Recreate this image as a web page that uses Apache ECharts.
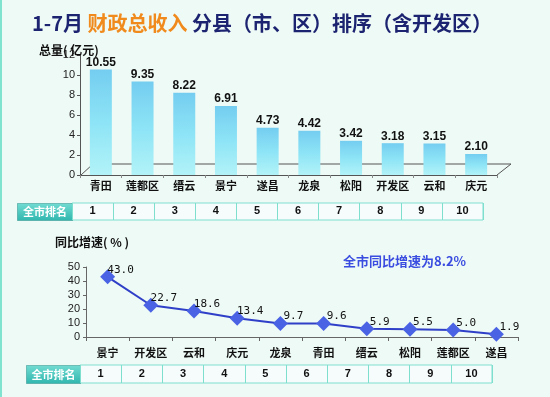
<!DOCTYPE html>
<html>
<head>
<meta charset="utf-8">
<script src="https://cdn.jsdelivr.net/npm/echarts@6/dist/echarts.min.js"></script>
<style>
  html, body { margin: 0; padding: 0; background: #eefaf5; }
  #chart { width: 550px; height: 397px; }
</style>
</head>
<body>
<div id="chart"></div>
<script>
// 总量（亿元）
const totalCounties = ['青田', '莲都区', '缙云', '景宁', '遂昌', '龙泉', '松阳', '开发区', '云和', '庆元']
const totalValues = [10.55, 9.35, 8.22, 6.91, 4.73, 4.42, 3.42, 3.18, 3.15, 2.10]

// 同比增速（%）
const growthCounties = ['景宁', '开发区', '云和', '庆元', '龙泉', '青田', '缙云', '松阳', '莲都区', '遂昌']
const growthValues = [43.0, 22.7, 18.6, 13.4, 9.7, 9.6, 5.9, 5.5, 5.0, 1.9]

const ranks = ['1', '2', '3', '4', '5', '6', '7', '8', '9', '10']

const CJK = '"Noto Sans CJK SC", "Liberation Sans", sans-serif'
const NUM = '"Liberation Sans", Arial, sans-serif'

const chart = echarts.init(document.getElementById('chart'))

const rankAxis = (gridIndex) => ({
  type: 'category',
  gridIndex,
  data: ranks,
  axisLine: { show: false },
  axisTick: { show: false },
  splitLine: { show: true, lineStyle: { color: '#7fdfcf', width: 1 } },
  axisLabel: {
    margin: -9, verticalAlign: 'middle', interval: 0,
    color: '#111', fontSize: 11, fontWeight: 'bold', fontFamily: NUM
  }
})

const rankTag = (left, top, width, height) => ({
  type: 'group',
  left, top,
  children: [
    {
      type: 'rect',
      shape: { x: 0, y: 0, width, height },
      style: {
        fill: new echarts.graphic.LinearGradient(0, 0, 0, 1, [
          { offset: 0, color: '#72dcd2' },
          { offset: 1, color: '#2fb6ae' }
        ]),
        stroke: '#2a8f8a', lineWidth: 1, lineDash: [1, 1]
      }
    },
    {
      type: 'text',
      x: width / 2, y: height / 2,
      style: {
        text: '全市排名', fill: '#fff', font: 'bold 11px ' + CJK,
        align: 'center', verticalAlign: 'middle'
      }
    }
  ]
})

chart.setOption({
  backgroundColor: '#eefaf5',
  title: [
    {
      left: 27, top: 8,
      text: '{a|1-7月 }{b|财政总收入}{a| 分县（市、区）排序（含开发区）}',
      textStyle: {
        rich: {
          a: { color: '#1c2370', fontSize: 20, fontFamily: CJK },
          b: { color: '#f08a1c', fontSize: 20, fontFamily: CJK }
        }
      }
    },
    {
      left: 34, top: 39,
      text: '总量( 亿元)',
      textStyle: { color: '#111', fontSize: 12, fontWeight: 'bold', fontFamily: CJK }
    },
    {
      left: 50, top: 231,
      text: '同比增速( % )',
      textStyle: { color: '#111', fontSize: 12, fontWeight: 'bold', fontFamily: CJK }
    },
    {
      left: 338, top: 250,
      text: '全市同比增速为8.2%',
      textStyle: { color: '#3a4de0', fontSize: 13, fontWeight: 'bold', fontFamily: CJK }
    }
  ],
  grid: [
    { left: 80, right: 53, top: 55, height: 120 },
    { left: 72, right: 67, top: 203, height: 17, show: true, backgroundColor: '#f6fcfc', borderColor: '#7fdfcf', borderWidth: 1 },
    { left: 86, right: 32, top: 267, height: 70 },
    { left: 80, right: 58, top: 365, height: 18, show: true, backgroundColor: '#f6fcfc', borderColor: '#7fdfcf', borderWidth: 1 }
  ],
  xAxis: [
    {
      type: 'category', gridIndex: 0, data: totalCounties,
      axisLine: { lineStyle: { color: '#555' } },
      axisTick: { show: true, length: 3, lineStyle: { color: '#888' } },
      axisLabel: { interval: 0, margin: 5, color: '#111', fontSize: 11, fontWeight: 'bold', fontFamily: CJK }
    },
    rankAxis(1),
    {
      type: 'category', gridIndex: 2, data: growthCounties,
      axisLine: { lineStyle: { color: '#666' } },
      axisTick: { show: true, length: 4, lineStyle: { color: '#666' } },
      axisLabel: { interval: 0, margin: 10, color: '#111', fontSize: 11, fontWeight: 'bold', fontFamily: CJK }
    },
    rankAxis(3)
  ],
  yAxis: [
    {
      type: 'value', gridIndex: 0, min: 0, max: 12, interval: 2,
      axisLine: { show: true, lineStyle: { color: '#555' } },
      axisTick: { show: true, length: 3, lineStyle: { color: '#555' } },
      splitLine: { show: false },
      axisLabel: { margin: 5, color: '#222', fontSize: 11, fontFamily: NUM }
    },
    { type: 'value', gridIndex: 1, show: false },
    {
      type: 'value', gridIndex: 2, min: 0, max: 50, interval: 10,
      axisLine: { show: true, lineStyle: { color: '#666' } },
      axisTick: { show: true, length: 3, lineStyle: { color: '#666' } },
      splitLine: { show: false },
      axisLabel: { margin: 6, color: '#222', fontSize: 11, fontFamily: NUM }
    },
    { type: 'value', gridIndex: 3, show: false }
  ],
  series: [
    {
      type: 'bar',
      xAxisIndex: 0, yAxisIndex: 0,
      data: totalValues,
      barWidth: 22,
      z: 3,
      itemStyle: {
        color: new echarts.graphic.LinearGradient(0, 0, 0, 1, [
          { offset: 0, color: '#74cdf0' },
          { offset: 0.5, color: '#8de4f6' },
          { offset: 1, color: '#b2f3f8' }
        ])
      },
      label: {
        show: true, position: 'top', distance: 1,
        formatter: p => p.value.toFixed(2),
        color: '#111', fontSize: 12, fontWeight: 'bold', fontFamily: NUM
      }
    },
    {
      type: 'line',
      xAxisIndex: 2, yAxisIndex: 2,
      data: growthValues,
      symbol: 'diamond',
      symbolSize: 15,
      lineStyle: { color: '#2f3fc8', width: 2 },
      itemStyle: { color: '#4a63e4' },
      label: {
        show: true, position: 'inside', offset: [13, -7],
        formatter: p => p.value.toFixed(1),
        color: '#111', fontSize: 11, fontFamily: '"DejaVu Sans Mono", monospace'
      }
    }
  ],
  graphic: [
    { type: 'rect', left: 0, top: 0, shape: { width: 2, height: 397 }, style: { fill: '#7fe3cf' } },
    // 立体底座的后沿线
    {
      type: 'polyline', z: 0,
      shape: { points: [[81, 175], [93, 164], [511, 164], [497, 175]] },
      style: { stroke: '#555', lineWidth: 1, fill: null }
    },
    rankTag(17, 203, 55, 17),
    rankTag(26, 365, 54, 18)
  ]
})
</script>
</body>
</html>
